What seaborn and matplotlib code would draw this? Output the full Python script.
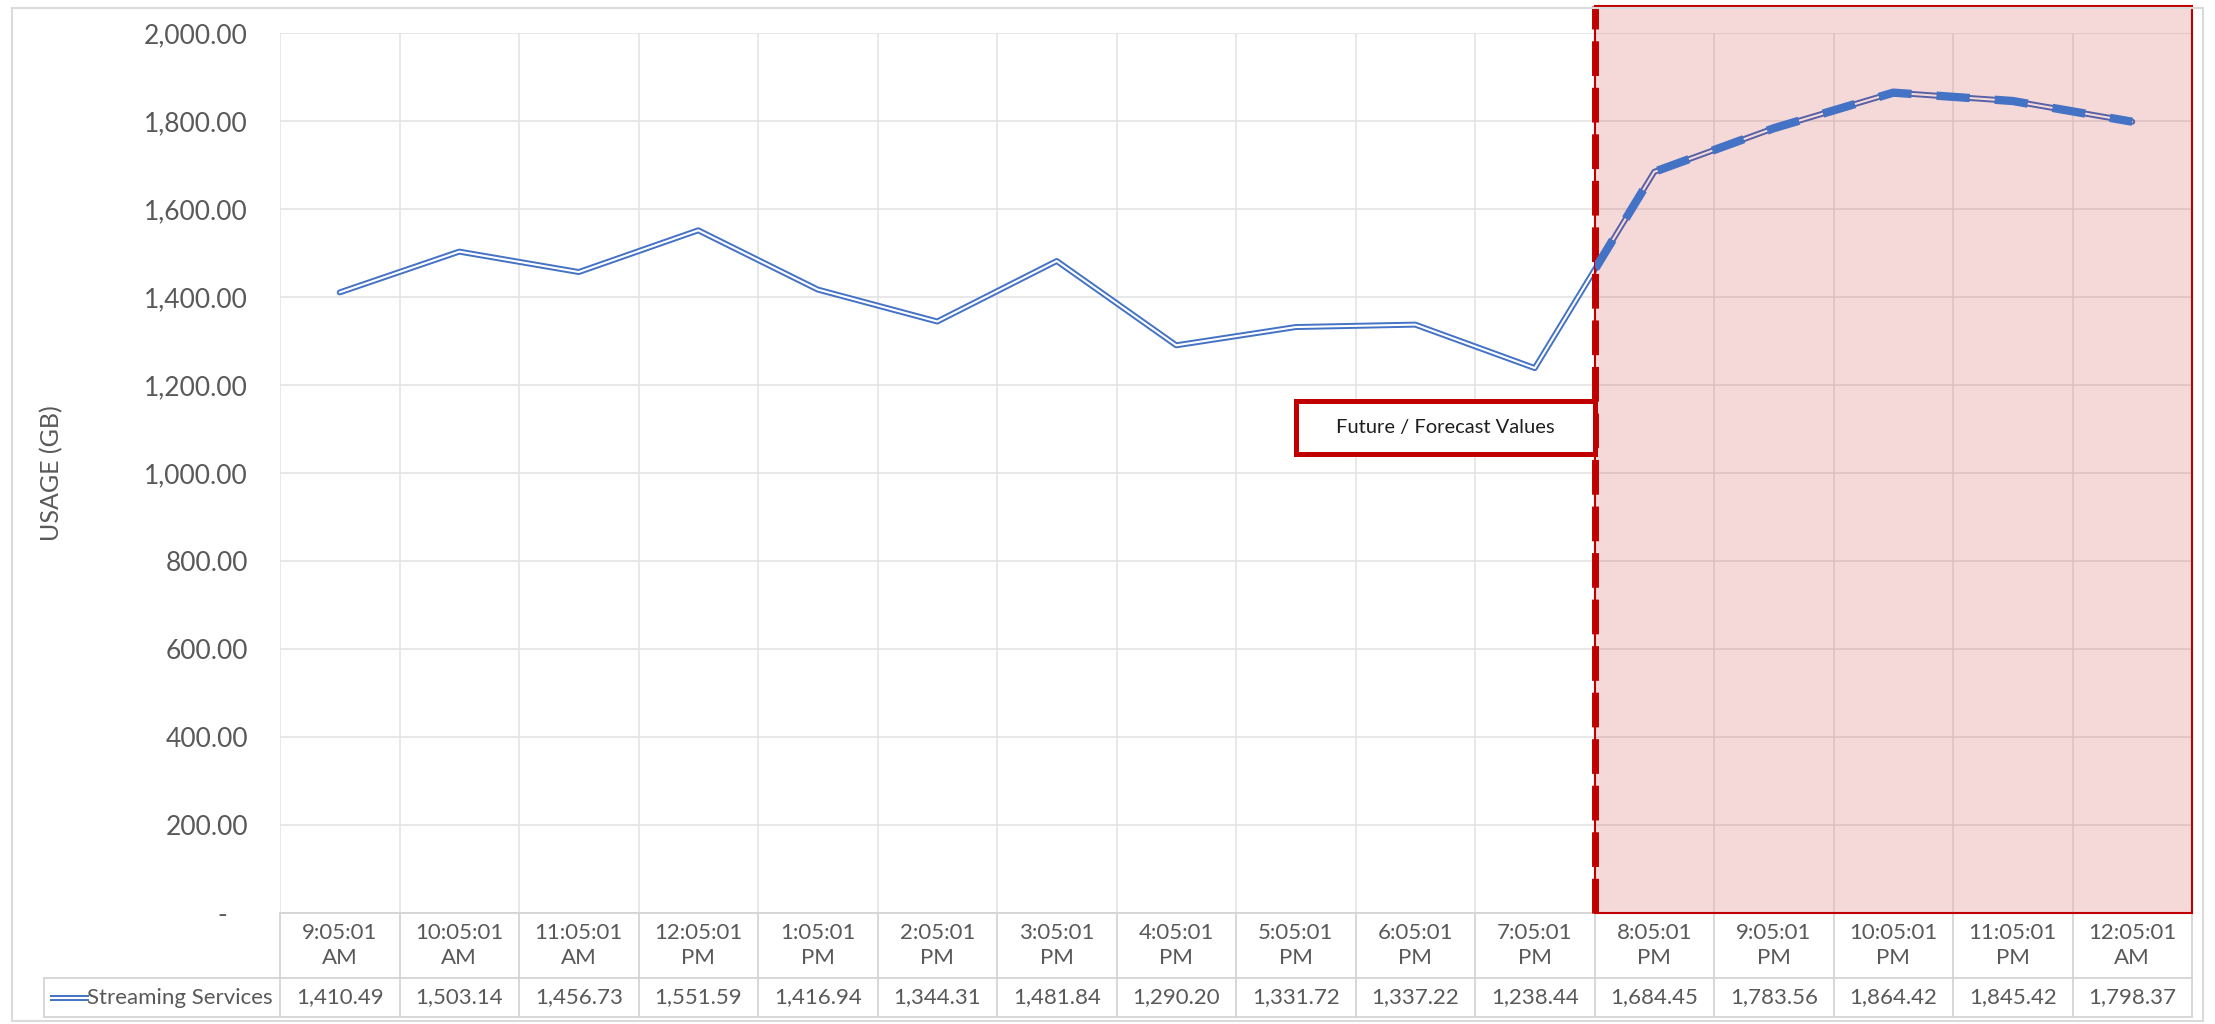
import numpy as np
import pandas as pd
import seaborn as sns
import matplotlib.pyplot as plt
import matplotlib.transforms as mtransforms
from matplotlib.patches import Rectangle
from matplotlib.colors import to_rgba
from matplotlib.ticker import FuncFormatter, MultipleLocator

times = ["9:05:01\nAM", "10:05:01\nAM", "11:05:01\nAM", "12:05:01\nPM",
         "1:05:01\nPM", "2:05:01\nPM", "3:05:01\nPM", "4:05:01\nPM",
         "5:05:01\nPM", "6:05:01\nPM", "7:05:01\nPM", "8:05:01\nPM",
         "9:05:01\nPM", "10:05:01\nPM", "11:05:01\nPM", "12:05:01\nAM"]
usage = [1410.49, 1503.14, 1456.73, 1551.59, 1416.94, 1344.31, 1481.84, 1290.20,
         1331.72, 1337.22, 1238.44, 1684.45, 1783.56, 1864.42, 1845.42, 1798.37]
series_name = "Streaming Services"
forecast_start = 11  # first forecast column (8:05:01 PM)

blue = "#4472C4"
red = "#C00000"
gray = "#595959"
grid_col = "#E4E4E4"

df = pd.DataFrame({"pos": np.arange(len(times)), "time": times, "usage": usage})

sns.set_theme(style="white")
plt.rcParams["font.family"] = ["Lato", "DejaVu Sans"]

W, H = 2215, 1024
L, R, T, B = 280, 2192, 33, 913
fig = plt.figure(figsize=(W / 100, H / 100), dpi=100)
ax = fig.add_axes([L / W, 1 - B / H, (R - L) / W, (B - T) / H])

# double line (blue outline, white core)
sns.lineplot(data=df, x="pos", y="usage", ax=ax, color=blue, lw=4.3, zorder=2)
sns.lineplot(data=df, x="pos", y="usage", ax=ax, color="white", lw=1.5, zorder=2.1)

# forecast shading
top_frac = (B - 6) / (B - T)
span = ax.axvspan(forecast_start - 0.5, len(times) - 0.5, ymin=0, ymax=top_frac,
                  facecolor=to_rgba(red, 0.15), edgecolor=red, lw=1.5,
                  clip_on=False, zorder=3)
ax.axvline(forecast_start - 0.5, ymin=0, ymax=top_frac, color=red, lw=5,
           dashes=(5, 1.7), clip_on=False, zorder=4)

# dashed forecast line, clipped to the shaded region
fc = df[df["pos"] >= forecast_start - 1]
sns.lineplot(data=fc, x="pos", y="usage", ax=ax, color=blue, lw=6, zorder=5)
fline = ax.lines[-1]
fline.set_dashes([4, 3])
fline.set_clip_path(span)

# axes styling
ax.set_xlim(-0.5, len(times) - 0.5)
ax.set_ylim(0, 2000)
ax.yaxis.set_major_locator(MultipleLocator(200))
ax.yaxis.set_major_formatter(FuncFormatter(lambda v, p: "-   " if v == 0 else f"{v:,.2f}"))
ax.set_xticks(np.arange(-0.5, len(times), 1))
ax.set_xticklabels([])
ax.grid(True, color=grid_col, lw=1.2, zorder=0)
ax.set_axisbelow(True)
ax.tick_params(length=0, labelsize=19, labelcolor=gray, pad=23)
for s in ax.spines.values():
    s.set_visible(False)
ax.set_xlabel("")
ax.set_ylabel("USAGE (GB)", fontsize=18, color=gray)
ax.yaxis.label.set_va("center")
ax.yaxis.set_label_coords((52 - L) / (R - L), 0.5)

# data table below the plot
trans = mtransforms.blended_transform_factory(ax.transData, ax.transAxes)
hdr_y = -(978 - B) / (B - T)
bot_y = -(1017 - B) / (B - T)
leg_x = (44 - L) / (R - L)
tcol = "#D4D4D4"
for i, (t, v) in enumerate(zip(times, usage)):
    ax.text(i, hdr_y / 2, t, transform=trans, ha="center", va="center",
            fontsize=16, color=gray, linespacing=1.3)
    ax.text(i, (hdr_y + bot_y) / 2, f"{v:,.2f}", transform=trans, ha="center",
            va="center", fontsize=16, color=gray)
for b in np.arange(-0.5, len(times), 1):
    ax.plot([b, b], [0, bot_y], transform=trans, color=tcol, lw=1.3, clip_on=False)
ax.plot([0, 1], [0, 0], transform=ax.transAxes, color=tcol, lw=1.3, clip_on=False)
for yy in (hdr_y, bot_y):
    ax.plot([leg_x, 1], [yy, yy], transform=ax.transAxes, color=tcol, lw=1.3, clip_on=False)
ax.plot([leg_x, leg_x], [hdr_y, bot_y], transform=ax.transAxes, color=tcol, lw=1.3, clip_on=False)

row_y = (hdr_y + bot_y) / 2
ax.text((273 - L) / (R - L), row_y, series_name, transform=ax.transAxes,
        ha="right", va="center", fontsize=16, color=gray)
lx = [(50 - L) / (R - L), (89 - L) / (R - L)]
ax.plot(lx, [row_y, row_y], transform=ax.transAxes, color=blue, lw=4.3,
        solid_capstyle="butt", clip_on=False)
ax.plot(lx, [row_y, row_y], transform=ax.transAxes, color="white", lw=1.5,
        solid_capstyle="butt", clip_on=False)

# callout box
ax.add_patch(Rectangle((8.0, 1043), forecast_start - 0.5 - 8.0, 121, facecolor="white",
                       edgecolor=red, lw=3.6, zorder=6))
ax.text((8.0 + forecast_start - 0.5) / 2, 1103, "Future / Forecast Values", ha="center",
        va="center", fontsize=14.5, color="#1E1E1E", zorder=7)

# chart border
fig.add_artist(Rectangle((12 / W, 1 - 1021 / H), (2203 - 12) / W, (1021 - 8) / H,
                         transform=fig.transFigure, fill=False, edgecolor="#DADADA", lw=1.5))

fig.savefig("out.png", dpi=100)
